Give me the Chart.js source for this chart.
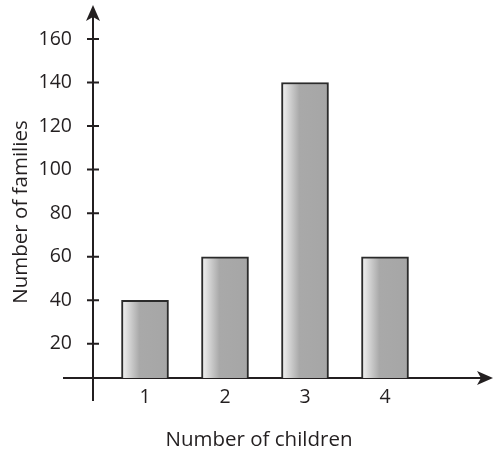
<!DOCTYPE html>
<html>
<head>
<meta charset="utf-8">
<script src="https://cdn.jsdelivr.net/npm/chart.js@4"></script>
<style>
  html, body { margin: 0; padding: 0; background: #fff; }
  #wrap { width: 502px; height: 458px; }
</style>
</head>
<body>
<div id="wrap"><canvas id="chart" width="502" height="458"></canvas></div>
<script>
// values
const children = [1, 2, 3, 4];
const families = [40, 60, 140, 60];
const yTicks = [20, 40, 60, 80, 100, 120, 140, 160];
const xTitle = "Number of children";
const yTitle = "Number of families";

const INK = "#231f20";
const FONT = "Open Sans";

function barFill(ctx) {
  const chart = ctx.chart, xs = chart.scales.x;
  if (!xs || !chart.chartArea) return "#a8a8a8";
  const cx = xs.getPixelForValue(children[ctx.dataIndex]);
  const g = chart.ctx.createLinearGradient(cx - 23.5, 0, cx + 23.5, 0);
  g.addColorStop(0, "#f4f4f4");
  g.addColorStop(0.38, "#a9a9a9");
  g.addColorStop(1, "#a6a6a6");
  return g;
}

// axis lines with arrows, tick crosses and titles
const axesPlugin = {
  id: "axes",
  beforeDatasetsDraw(chart) {
    const { ctx, chartArea: a, scales } = chart;
    ctx.save();
    ctx.strokeStyle = INK; ctx.fillStyle = INK; ctx.lineWidth = 2;
    ctx.beginPath();
    ctx.moveTo(a.left, a.bottom + 23); ctx.lineTo(a.left, a.top - 4);
    ctx.moveTo(a.left - 30, a.bottom); ctx.lineTo(a.right + 58, a.bottom);
    yTicks.forEach(v => {
      const y = scales.y.getPixelForValue(v);
      ctx.moveTo(a.left - 6, y); ctx.lineTo(a.left + 6, y);
    });
    ctx.stroke();
    // arrow heads
    ctx.beginPath();
    ctx.moveTo(a.left, a.top - 15); ctx.lineTo(a.left - 7, a.top + 1); ctx.lineTo(a.left, a.top - 3); ctx.lineTo(a.left + 7, a.top + 1);
    ctx.closePath(); ctx.fill();
    const tx = a.right + 69;
    ctx.beginPath();
    ctx.moveTo(tx, a.bottom); ctx.lineTo(tx - 16, a.bottom - 7); ctx.lineTo(tx - 12, a.bottom); ctx.lineTo(tx - 16, a.bottom + 7);
    ctx.closePath(); ctx.fill();
    // titles
    ctx.font = `20.5px "${FONT}"`;
    ctx.textAlign = "center"; ctx.textBaseline = "middle";
    ctx.fillText(xTitle, 259, 440);
    ctx.translate(21, 212); ctx.rotate(-Math.PI / 2);
    ctx.fillText(yTitle, 0, 0);
    ctx.restore();
  }
};

new Chart(document.getElementById("chart"), {
  type: "bar",
  data: {
    datasets: [{
      data: children.map((c, i) => ({ x: c, y: families[i] })),
      backgroundColor: barFill,
      borderColor: "#2b2b2b",
      borderWidth: 2,
      borderSkipped: "bottom",
      barThickness: 47,
    }],
  },
  options: {
    responsive: false,
    animation: false,
    layout: { padding: { top: 20, right: 78, left: 0, bottom: 0 } },
    plugins: { legend: { display: false }, tooltip: { enabled: false } },
    scales: {
      x: {
        type: "linear", min: 0.35, max: 4.4875, offset: false,
        afterBuildTicks: s => { s.ticks = children.map(v => ({ value: v })); },
        afterFit: s => { s.height = 80; s.paddingLeft = 0; s.paddingRight = 0; },
        grid: { display: false }, border: { display: false },
        ticks: { color: INK, font: { family: FONT, size: 19.5 }, padding: 0 },
      },
      y: {
        min: 4.3, max: 168.7,
        afterBuildTicks: s => { s.ticks = yTicks.map(v => ({ value: v })); },
        afterFit: s => { s.width = 93; s.paddingTop = 0; s.paddingBottom = 0; },
        grid: { display: false }, border: { display: false },
        ticks: { color: INK, font: { family: FONT, size: 19.5 }, padding: 13 },
      },
    },
  },
  plugins: [axesPlugin],
});
</script>
</body>
</html>
